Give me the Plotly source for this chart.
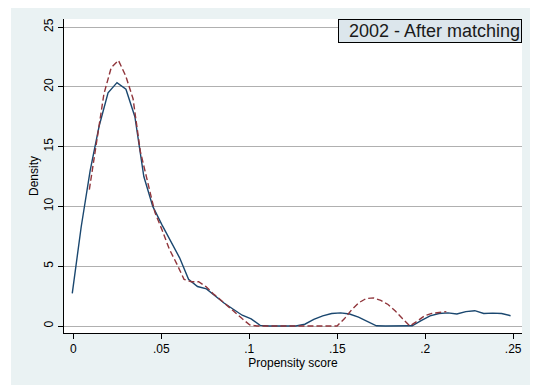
import numpy as np
import plotly.graph_objects as go

# Untreated (blue, solid) kernel density: 50 grid points
blue_start, blue_end = -0.0006, 0.2485
blue_y = [2.73, 8.3, 13.0, 16.7, 19.5, 20.35, 19.8, 17.5, 12.5, 10.0,
          8.5, 7.1, 5.7, 3.9, 3.3, 3.1, 2.5, 1.9, 1.4, 0.9,
          0.6, 0.05, 0.0, 0.0, 0.0, 0.0, 0.15, 0.55, 0.85, 1.05,
          1.1, 1.0, 0.75, 0.4, 0.02, 0.0, 0.0, 0.0, 0.02, 0.45,
          0.85, 1.05, 1.1, 1.0, 1.2, 1.28, 1.05, 1.08, 1.05, 0.86]

# Treated (red, dashed) kernel density: 50 grid points
red_start, red_end = 0.0091, 0.212
red_y = [11.4, 15.3, 19.4, 21.6, 22.2, 20.9, 19.0, 14.6, 12.0, 9.5,
         8.0, 6.4, 5.2, 3.9, 3.7, 3.7, 3.3, 2.7, 2.2, 1.65,
         1.1, 0.6, 0.1, 0.0, 0.0, 0.0, 0.0, 0.0, 0.0, 0.0,
         0.0, 0.0, 0.0, 0.0, 0.0, 0.6, 1.35, 1.95, 2.3, 2.35,
         2.15, 1.8, 1.25, 0.6, 0.0, 0.4, 0.85, 1.05, 1.15, 1.2]

x_ticks = [0, 0.05, 0.1, 0.15, 0.2, 0.25]
x_tick_labels = ["0", ".05", ".1", ".15", ".2", ".25"]
y_ticks = [0, 5, 10, 15, 20, 25]
y_tick_labels = ["0", "5", "10", "15", "20", "25"]
title_text = "2002 - After matching"

blue_x = np.linspace(blue_start, blue_end, len(blue_y))
red_x = np.linspace(red_start, red_end, len(red_y))

BG = "#eaf2f3"
FONT = "Liberation Sans, Arial, sans-serif"

fig = go.Figure()
fig.add_trace(go.Scatter(x=blue_x, y=blue_y, mode="lines",
                         line=dict(color="#1a476f", width=1.4), showlegend=False))
fig.add_trace(go.Scatter(x=red_x, y=red_y, mode="lines",
                         line=dict(color="#90353b", width=1.4, dash="6px,3px"),
                         showlegend=False))

fig.update_layout(
    width=530, height=377,
    margin=dict(l=56, r=16, t=11, b=52, pad=0),
    paper_bgcolor=BG, plot_bgcolor="white",
    font=dict(family=FONT, size=12, color="black"),
    xaxis=dict(range=[-0.0053, 0.255], tickvals=x_ticks, ticktext=x_tick_labels,
               showgrid=False, zeroline=False, showline=True, linecolor="black",
               linewidth=1, ticks="outside", ticklen=5, tickcolor="black",
               tickfont=dict(size=12),
               title=dict(text="Propensity score", font=dict(size=12), standoff=2)),
    yaxis=dict(range=[-0.585, 25.67], tickvals=y_ticks, ticktext=y_tick_labels,
               showgrid=True, gridcolor="#b0b0b0", gridwidth=1, zeroline=False,
               showline=True, linecolor="black", linewidth=1, ticks="outside",
               ticklen=5, tickcolor="black", tickangle=-90, tickfont=dict(size=12),
               title=dict(text="Density", font=dict(size=12), standoff=1)),
    shapes=[
        dict(type="rect", xref="paper", yref="paper", x0=-0.2, x1=(3 - 56) / 458,
             y0=-0.3, y1=1.2, fillcolor="white", line=dict(width=0), layer="below"),
    ],
    annotations=[dict(text=title_text, xref="paper", yref="paper", x=1, y=1,
                      xanchor="right", yanchor="top", showarrow=False,
                      font=dict(size=18, color="#1a1a1a"), bgcolor="#dce6ec",
                      bordercolor="black", borderwidth=1, borderpad=1,
                      width=180, align="right")],
)

fig.write_html("out.html")
